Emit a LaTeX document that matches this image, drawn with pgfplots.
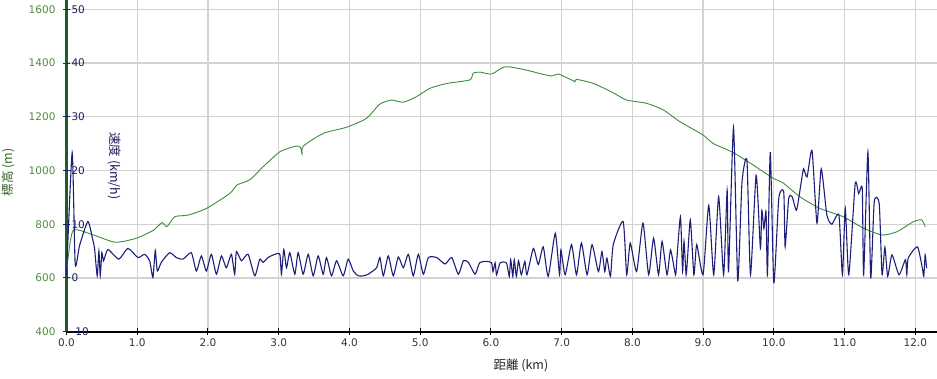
\documentclass[border=0pt]{standalone}
\usepackage{pgfplots}
\pgfplotsset{compat=1.18}
\usepackage{fontspec}
\setmainfont{DejaVu Sans}
\newfontfamily\cjk{Noto Sans CJK JP}
\definecolor{elevline}{HTML}{3C8C3C}
\definecolor{speedline}{HTML}{1E1E78}
\definecolor{axisgreen}{HTML}{1B5E2B}
\definecolor{elevlab}{HTML}{4E8E3E}
\definecolor{speedlab}{HTML}{1A1A5E}
\definecolor{gridgray}{HTML}{D2D2D2}
\begin{document}
\begin{tikzpicture}
\useasboundingbox (0,0) rectangle (937pt,378pt);
\begin{axis}[
  at={(66.5pt,46.3pt)}, anchor=south west,
  scale only axis, width=870.5pt, height=331.7pt,
  xmin=0, xmax=12.307, ymin=400, ymax=1634.5,
  axis x line=bottom, axis y line=left, axis line style={-},
  x axis line style={black, line width=2pt},
  y axis line style={axisgreen, line width=3pt},
  xtick={0,1,...,12}, ytick={400,600,...,1600},
  grid=major, grid style={gridgray, line width=1.2pt},
  major tick length=7pt, tick align=center,
  xtick style={black, line width=1pt},
  ytick style={axisgreen, line width=1pt},
  /pgf/number format/assume math mode=true,
  /pgf/number format/1000 sep={},
  xticklabel style={font=\fontsize{10.5}{12}\selectfont, text=black!80,
    /pgf/number format/fixed, /pgf/number format/precision=1, /pgf/number format/fixed zerofill},
  yticklabel style={font=\fontsize{10.5}{12}\selectfont, text=elevlab, xshift=-4pt},
  xlabel={\cjk 距離 (km)},
  xlabel style={at={(axis description cs:0.522,0)}, anchor=center, yshift=-34pt, font=\fontsize{12.5}{14}\selectfont, text=black!85},
  clip=false,
]
\addplot[elevline, line width=0.9pt, smooth, tension=0.4] coordinates {
(0,620) (0.03,690) (0.10,778) (0.38,760) (0.69,733) (0.99,748) (1.23,778) (1.35,806) (1.42,791) (1.53,828)
(1.72,834) (1.98,859) (2.31,915) (2.41,946) (2.59,965) (2.78,1014) (3.02,1070) (3.25,1091) (3.31,1085) (3.33,1061)
(3.35,1091) (3.63,1138) (3.96,1161) (4.24,1194) (4.43,1247) (4.60,1262) (4.76,1254) (4.95,1275) (5.14,1306)
(5.38,1324) (5.70,1337) (5.75,1362) (5.85,1366) (6.01,1359) (6.20,1386) (6.46,1376) (6.84,1352) (6.95,1359)
(7.17,1333) (7.19,1330) (7.21,1339) (7.45,1324) (7.73,1289) (7.92,1262) (8.20,1250) (8.44,1225) (8.67,1182)
(9.00,1132) (9.14,1101) (9.43,1066) (9.71,1020) (9.99,971) (10.13,954) (10.37,902) (10.65,859) (10.98,828)
(11.27,785) (11.53,760) (11.74,772) (11.97,809) (12.09,816) (12.14,791)
};
\node[rotate=90, text=elevlab!70!black, font=\cjk\fontsize{12.5}{14}\selectfont] at (axis description cs:-0.0672,0.481) {標高 (m)};
\end{axis}
\begin{axis}[
  at={(66.5pt,46.3pt)}, anchor=south west,
  scale only axis, width=870.5pt, height=331.7pt,
  xmin=0, xmax=12.307, ymin=-10, ymax=51.725,
  axis x line=none, axis y line=left, axis line style={draw=none},
  ytick={-10,0,...,50},
  major tick length=7pt, tick align=center,
  ytick style={speedline, line width=1pt},
  /pgf/number format/assume math mode=true,
  yticklabel style={font=\fontsize{10.5}{12}\selectfont, text=speedlab, anchor=west, xshift=5pt},
  clip=false,
]
\addplot[speedline, line width=1.1pt, smooth, tension=0.35] coordinates {
(0,0.5) (0.08,23.3) (0.123,2.6) (0.184,6) (0.302,10.5) (0.373,7) (0.396,5.6) (0.434,0.4) (0.458,5) (0.477,0.4)
(0.5,4.7) (0.524,3.2) (0.585,5.3) (0.74,3.5) (0.868,5.5) (1.01,3.8) (1.104,4.4) (1.175,3.2) (1.222,0.1) (1.255,5.1)
(1.284,1.3) (1.34,2.9) (1.458,4.7) (1.553,3.8) (1.647,3.5) (1.765,4.7) (1.836,1.3) (1.907,4.1) (1.977,1.3)
(2.048,4.4) (2.119,0.7) (2.19,4.1) (2.26,1.9) (2.331,4.4) (2.378,0.7) (2.402,4.9) (2.473,3.2) (2.567,4.4)
(2.662,0.4) (2.732,3.5) (2.78,2.9) (2.85,3.8) (2.945,4.4) (3.016,4.4) (3.039,0.7) (3.072,5.3) (3.11,1.9)
(3.157,4.7) (3.228,0.7) (3.275,4.7) (3.346,0.7) (3.417,4.4) (3.488,0.4) (3.558,4.1) (3.629,0.7) (3.676,3.8)
(3.747,0.4) (3.818,3.2) (3.912,0.4) (3.983,3.5) (4.054,1.3) (4.125,0.4) (4.195,0.4) (4.266,0.7) (4.384,1.9)
(4.431,3.8) (4.479,0.4) (4.549,4.1) (4.62,0.4) (4.691,3.9) (4.762,1.9) (4.833,4.4) (4.903,0.4) (4.974,4.4)
(5.045,0.7) (5.116,3.8) (5.234,3.8) (5.352,2.6) (5.446,3.8) (5.54,0.7) (5.611,3.2) (5.682,2.9) (5.776,0.7)
(5.84,2.8) (5.94,3.1) (6.01,2.8) (6.03,1.2) (6.06,2.8) (6.08,0.6) (6.13,2.8) (6.22,2.8) (6.26,0.3) (6.28,3.4)
(6.31,0.3) (6.33,3.4) (6.36,0.3) (6.39,3.2) (6.43,0.6) (6.48,3.1) (6.51,0.6) (6.60,5.5) (6.67,2.5) (6.74,5.8)
(6.81,0.3) (6.91,8.3) (6.97,0.6) (6.99,5.2) (7.05,0.6) (7.14,6.2) (7.21,0.6) (7.28,6.5) (7.36,0.6) (7.43,6.2)
(7.52,1.2) (7.57,4.9) (7.61,1.2) (7.64,3.7) (7.69,0.3) (7.73,6.2) (7.87,10.5) (7.92,0.6) (7.97,6.5) (8.06,1.2)
(8.15,10.2) (8.23,0.6) (8.30,7.4) (8.37,0.6) (8.42,6.8) (8.49,0.6) (8.54,5.2) (8.61,0.6) (8.63,3.7) (8.68,11.4)
(8.71,1.2) (8.73,6.8) (8.76,0.6) (8.78,3.7) (8.82,10.8) (8.87,0.6) (8.91,6.2) (9.00,0.6) (9.08,13.5) (9.15,0.6)
(9.22,15.1) (9.29,0.6) (9.34,16.3) (9.36,1.2) (9.43,28.0) (9.49,-0.5) (9.55,17.8) (9.62,21.8) (9.67,0.6)
(9.75,19.1) (9.81,5.5) (9.83,12.6) (9.86,9.2) (9.89,12.3) (9.91,0.6) (9.95,23.4) (10.00,-0.9) (10.07,14.8)
(10.14,16.0) (10.16,5.8) (10.21,14.8) (10.26,15.1) (10.32,12.6) (10.38,17.2) (10.42,20.3) (10.47,18.8)
(10.54,23.7) (10.61,10.2) (10.67,20.3) (10.75,11.7) (10.82,10) (10.92,11.7) (10.97,0.6) (11.01,13) (11.06,0.6)
(11.15,17.5) (11.20,15.7) (11.25,16.6) (11.27,0.6) (11.33,23.4) (11.37,0) (11.42,14.2) (11.49,13.8) (11.53,0.6)
(11.57,5.7) (11.61,0.3) (11.67,4.3) (11.77,0.6) (11.86,3.4) (11.88,0.6) (11.90,3.7) (12.03,5.8) (12.10,1.8)
(12.12,0.3) (12.14,4.3) (12.16,1.8)
};
\node[rotate=-90, text=speedlab, font=\cjk\fontsize{12.5}{14}\selectfont] at (axis description cs:0.0557,0.5) {速度 (km/h)};
\end{axis}
\end{tikzpicture}
\end{document}
